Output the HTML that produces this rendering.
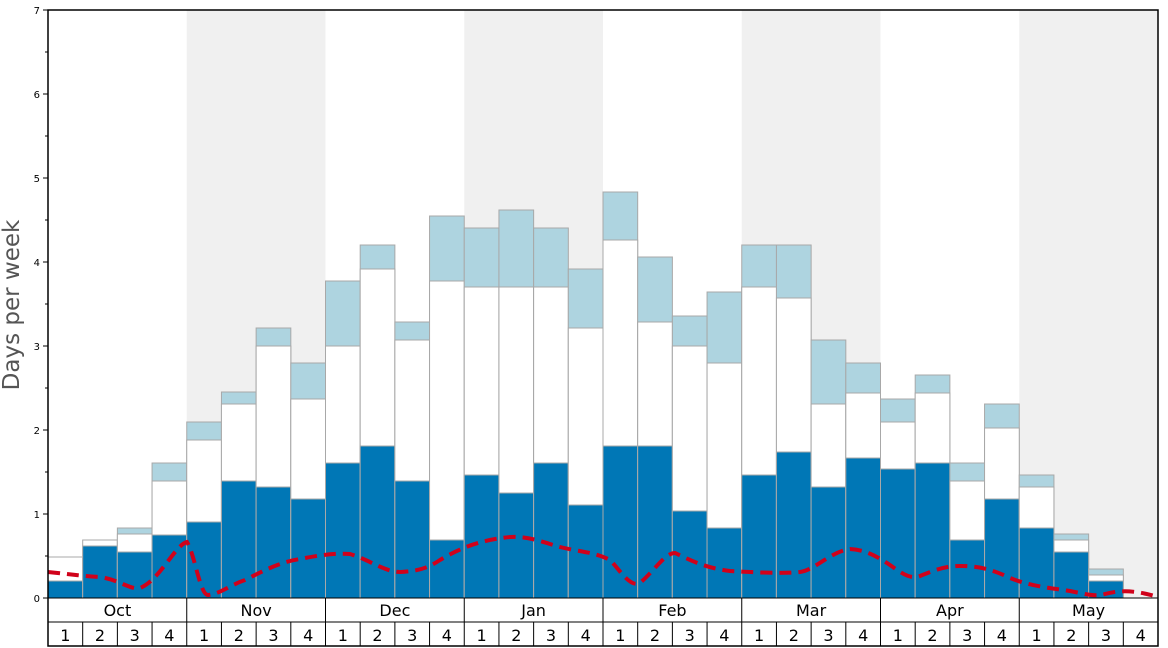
<!DOCTYPE html>
<html><head><meta charset="utf-8"><style>
html,body{margin:0;padding:0;background:#fff;width:1168px;height:648px;overflow:hidden}
svg{display:block}
text{font-family:"DejaVu Sans","Liberation Sans",sans-serif}
</style></head><body>
<svg width="1168" height="648" viewBox="0 0 1168 648" xmlns="http://www.w3.org/2000/svg">
<rect x="0" y="0" width="1168" height="648" fill="#fff"/>
<g fill="#f0f0f0">
<rect x="186.75" y="10" width="138.75" height="588"/>
<rect x="464.25" y="10" width="138.75" height="588"/>
<rect x="741.75" y="10" width="138.75" height="588"/>
<rect x="1019.25" y="10" width="138.75" height="588"/>
</g>
<g stroke="#a8a8a8" stroke-width="1">
<rect x="48" y="557" width="34.69" height="41" fill="#fff"/><rect x="48" y="581" width="34.69" height="17" fill="#0077b6"/>
<rect x="82.69" y="540" width="34.69" height="58" fill="#fff"/><rect x="82.69" y="546" width="34.69" height="52" fill="#0077b6"/>
<rect x="117.38" y="528" width="34.69" height="70" fill="#aed4e0"/><rect x="117.38" y="534" width="34.69" height="64" fill="#fff"/><rect x="117.38" y="552" width="34.69" height="46" fill="#0077b6"/>
<rect x="152.06" y="463" width="34.69" height="135" fill="#aed4e0"/><rect x="152.06" y="481" width="34.69" height="117" fill="#fff"/><rect x="152.06" y="535" width="34.69" height="63" fill="#0077b6"/>
<rect x="186.75" y="422" width="34.69" height="176" fill="#aed4e0"/><rect x="186.75" y="440" width="34.69" height="158" fill="#fff"/><rect x="186.75" y="522" width="34.69" height="76" fill="#0077b6"/>
<rect x="221.44" y="392" width="34.69" height="206" fill="#aed4e0"/><rect x="221.44" y="404" width="34.69" height="194" fill="#fff"/><rect x="221.44" y="481" width="34.69" height="117" fill="#0077b6"/>
<rect x="256.13" y="328" width="34.69" height="270" fill="#aed4e0"/><rect x="256.13" y="346" width="34.69" height="252" fill="#fff"/><rect x="256.13" y="487" width="34.69" height="111" fill="#0077b6"/>
<rect x="290.81" y="363" width="34.69" height="235" fill="#aed4e0"/><rect x="290.81" y="399" width="34.69" height="199" fill="#fff"/><rect x="290.81" y="499" width="34.69" height="99" fill="#0077b6"/>
<rect x="325.5" y="281" width="34.69" height="317" fill="#aed4e0"/><rect x="325.5" y="346" width="34.69" height="252" fill="#fff"/><rect x="325.5" y="463" width="34.69" height="135" fill="#0077b6"/>
<rect x="360.19" y="245" width="34.69" height="353" fill="#aed4e0"/><rect x="360.19" y="269" width="34.69" height="329" fill="#fff"/><rect x="360.19" y="446" width="34.69" height="152" fill="#0077b6"/>
<rect x="394.88" y="322" width="34.69" height="276" fill="#aed4e0"/><rect x="394.88" y="340" width="34.69" height="258" fill="#fff"/><rect x="394.88" y="481" width="34.69" height="117" fill="#0077b6"/>
<rect x="429.56" y="216" width="34.69" height="382" fill="#aed4e0"/><rect x="429.56" y="281" width="34.69" height="317" fill="#fff"/><rect x="429.56" y="540" width="34.69" height="58" fill="#0077b6"/>
<rect x="464.25" y="228" width="34.69" height="370" fill="#aed4e0"/><rect x="464.25" y="287" width="34.69" height="311" fill="#fff"/><rect x="464.25" y="475" width="34.69" height="123" fill="#0077b6"/>
<rect x="498.94" y="210" width="34.69" height="388" fill="#aed4e0"/><rect x="498.94" y="287" width="34.69" height="311" fill="#fff"/><rect x="498.94" y="493" width="34.69" height="105" fill="#0077b6"/>
<rect x="533.63" y="228" width="34.69" height="370" fill="#aed4e0"/><rect x="533.63" y="287" width="34.69" height="311" fill="#fff"/><rect x="533.63" y="463" width="34.69" height="135" fill="#0077b6"/>
<rect x="568.31" y="269" width="34.69" height="329" fill="#aed4e0"/><rect x="568.31" y="328" width="34.69" height="270" fill="#fff"/><rect x="568.31" y="505" width="34.69" height="93" fill="#0077b6"/>
<rect x="603" y="192" width="34.69" height="406" fill="#aed4e0"/><rect x="603" y="240" width="34.69" height="358" fill="#fff"/><rect x="603" y="446" width="34.69" height="152" fill="#0077b6"/>
<rect x="637.69" y="257" width="34.69" height="341" fill="#aed4e0"/><rect x="637.69" y="322" width="34.69" height="276" fill="#fff"/><rect x="637.69" y="446" width="34.69" height="152" fill="#0077b6"/>
<rect x="672.38" y="316" width="34.69" height="282" fill="#aed4e0"/><rect x="672.38" y="346" width="34.69" height="252" fill="#fff"/><rect x="672.38" y="511" width="34.69" height="87" fill="#0077b6"/>
<rect x="707.06" y="292" width="34.69" height="306" fill="#aed4e0"/><rect x="707.06" y="363" width="34.69" height="235" fill="#fff"/><rect x="707.06" y="528" width="34.69" height="70" fill="#0077b6"/>
<rect x="741.75" y="245" width="34.69" height="353" fill="#aed4e0"/><rect x="741.75" y="287" width="34.69" height="311" fill="#fff"/><rect x="741.75" y="475" width="34.69" height="123" fill="#0077b6"/>
<rect x="776.44" y="245" width="34.69" height="353" fill="#aed4e0"/><rect x="776.44" y="298" width="34.69" height="300" fill="#fff"/><rect x="776.44" y="452" width="34.69" height="146" fill="#0077b6"/>
<rect x="811.13" y="340" width="34.69" height="258" fill="#aed4e0"/><rect x="811.13" y="404" width="34.69" height="194" fill="#fff"/><rect x="811.13" y="487" width="34.69" height="111" fill="#0077b6"/>
<rect x="845.81" y="363" width="34.69" height="235" fill="#aed4e0"/><rect x="845.81" y="393" width="34.69" height="205" fill="#fff"/><rect x="845.81" y="458" width="34.69" height="140" fill="#0077b6"/>
<rect x="880.5" y="399" width="34.69" height="199" fill="#aed4e0"/><rect x="880.5" y="422" width="34.69" height="176" fill="#fff"/><rect x="880.5" y="469" width="34.69" height="129" fill="#0077b6"/>
<rect x="915.19" y="375" width="34.69" height="223" fill="#aed4e0"/><rect x="915.19" y="393" width="34.69" height="205" fill="#fff"/><rect x="915.19" y="463" width="34.69" height="135" fill="#0077b6"/>
<rect x="949.88" y="463" width="34.69" height="135" fill="#aed4e0"/><rect x="949.88" y="481" width="34.69" height="117" fill="#fff"/><rect x="949.88" y="540" width="34.69" height="58" fill="#0077b6"/>
<rect x="984.56" y="404" width="34.69" height="194" fill="#aed4e0"/><rect x="984.56" y="428" width="34.69" height="170" fill="#fff"/><rect x="984.56" y="499" width="34.69" height="99" fill="#0077b6"/>
<rect x="1019.25" y="475" width="34.69" height="123" fill="#aed4e0"/><rect x="1019.25" y="487" width="34.69" height="111" fill="#fff"/><rect x="1019.25" y="528" width="34.69" height="70" fill="#0077b6"/>
<rect x="1053.94" y="534" width="34.69" height="64" fill="#aed4e0"/><rect x="1053.94" y="540" width="34.69" height="58" fill="#fff"/><rect x="1053.94" y="552" width="34.69" height="46" fill="#0077b6"/>
<rect x="1088.63" y="569" width="34.69" height="29" fill="#aed4e0"/><rect x="1088.63" y="575" width="34.69" height="23" fill="#fff"/><rect x="1088.63" y="581" width="34.69" height="17" fill="#0077b6"/>
</g>
<path d="M48,572 C70,574 80,576 100,577 C120,580 130,590 140,588 C160,580 175,545 187,542 C195,555 200,595 208,595 C220,594 230,585 245,580 C265,570 280,562 300,559 C320,555 335,553 350,554 C370,560 385,572 400,572 C415,571 425,570 440,560 C460,548 480,540 510,537 C530,536 545,543 560,547 C580,552 595,552 610,560 C620,570 630,588 640,583 C655,570 665,553 675,553 C690,560 705,568 730,571 C750,572 780,574 800,572 C815,570 830,552 850,549 C865,550 875,555 890,565 C900,572 910,580 920,576 C935,570 945,566 960,566 C975,566 990,568 1010,578 C1030,586 1050,588 1070,591 C1085,594 1095,597 1105,594 C1120,590 1135,590 1158,597" fill="none" stroke="#d0021b" stroke-width="4" stroke-dasharray="12,7"/>
<rect x="0" y="599" width="1168" height="49" fill="#fff"/>
<rect x="48" y="10" width="1110" height="636" fill="none" stroke="#000" stroke-width="1.5"/>
<line x1="48" y1="598" x2="1158" y2="598" stroke="#000" stroke-width="1"/>
<line x1="48" y1="622" x2="1158" y2="622" stroke="#000" stroke-width="1"/>
<g stroke="#000" stroke-width="1">
<line x1="186.75" y1="598" x2="186.75" y2="646"/><line x1="325.5" y1="598" x2="325.5" y2="646"/>
<line x1="464.25" y1="598" x2="464.25" y2="646"/><line x1="603" y1="598" x2="603" y2="646"/>
<line x1="741.75" y1="598" x2="741.75" y2="646"/><line x1="880.5" y1="598" x2="880.5" y2="646"/>
<line x1="1019.25" y1="598" x2="1019.25" y2="646"/>
<line x1="82.69" y1="622" x2="82.69" y2="646"/><line x1="117.38" y1="622" x2="117.38" y2="646"/><line x1="152.06" y1="622" x2="152.06" y2="646"/>
<line x1="221.44" y1="622" x2="221.44" y2="646"/><line x1="256.13" y1="622" x2="256.13" y2="646"/><line x1="290.81" y1="622" x2="290.81" y2="646"/>
<line x1="360.19" y1="622" x2="360.19" y2="646"/><line x1="394.88" y1="622" x2="394.88" y2="646"/><line x1="429.56" y1="622" x2="429.56" y2="646"/>
<line x1="498.94" y1="622" x2="498.94" y2="646"/><line x1="533.63" y1="622" x2="533.63" y2="646"/><line x1="568.31" y1="622" x2="568.31" y2="646"/>
<line x1="637.69" y1="622" x2="637.69" y2="646"/><line x1="672.38" y1="622" x2="672.38" y2="646"/><line x1="707.06" y1="622" x2="707.06" y2="646"/>
<line x1="776.44" y1="622" x2="776.44" y2="646"/><line x1="811.13" y1="622" x2="811.13" y2="646"/><line x1="845.81" y1="622" x2="845.81" y2="646"/>
<line x1="915.19" y1="622" x2="915.19" y2="646"/><line x1="949.88" y1="622" x2="949.88" y2="646"/><line x1="984.56" y1="622" x2="984.56" y2="646"/>
<line x1="1053.94" y1="622" x2="1053.94" y2="646"/><line x1="1088.63" y1="622" x2="1088.63" y2="646"/><line x1="1123.31" y1="622" x2="1123.31" y2="646"/>
</g>
<g font-size="16" text-anchor="middle" fill="#000">
<text x="117.4" y="616">Oct</text><text x="256.1" y="616">Nov</text><text x="394.9" y="616">Dec</text>
<text x="533.6" y="616">Jan</text><text x="672.4" y="616">Feb</text><text x="811.1" y="616">Mar</text>
<text x="949.9" y="616">Apr</text><text x="1088.6" y="616">May</text>
</g>
<g font-size="16" text-anchor="middle" fill="#000">
<text x="65.3" y="641">1</text><text x="100.0" y="641">2</text><text x="134.7" y="641">3</text><text x="169.4" y="641">4</text>
<text x="204.1" y="641">1</text><text x="238.8" y="641">2</text><text x="273.5" y="641">3</text><text x="308.2" y="641">4</text>
<text x="342.8" y="641">1</text><text x="377.5" y="641">2</text><text x="412.2" y="641">3</text><text x="446.9" y="641">4</text>
<text x="481.6" y="641">1</text><text x="516.3" y="641">2</text><text x="551.0" y="641">3</text><text x="585.7" y="641">4</text>
<text x="620.3" y="641">1</text><text x="655.0" y="641">2</text><text x="689.7" y="641">3</text><text x="724.4" y="641">4</text>
<text x="759.1" y="641">1</text><text x="793.8" y="641">2</text><text x="828.5" y="641">3</text><text x="863.2" y="641">4</text>
<text x="897.8" y="641">1</text><text x="932.5" y="641">2</text><text x="967.2" y="641">3</text><text x="1001.9" y="641">4</text>
<text x="1036.6" y="641">1</text><text x="1071.3" y="641">2</text><text x="1106.0" y="641">3</text><text x="1140.7" y="641">4</text>
</g>
<g stroke="#000" stroke-width="1">
<line x1="43" y1="598" x2="48" y2="598"/><line x1="43" y1="514" x2="48" y2="514"/>
<line x1="43" y1="430" x2="48" y2="430"/><line x1="43" y1="346" x2="48" y2="346"/>
<line x1="43" y1="262" x2="48" y2="262"/><line x1="43" y1="178" x2="48" y2="178"/>
<line x1="43" y1="94" x2="48" y2="94"/><line x1="43" y1="10" x2="48" y2="10"/>
<line x1="45" y1="556" x2="48" y2="556"/><line x1="45" y1="472" x2="48" y2="472"/>
<line x1="45" y1="388" x2="48" y2="388"/><line x1="45" y1="304" x2="48" y2="304"/>
<line x1="45" y1="220" x2="48" y2="220"/><line x1="45" y1="136" x2="48" y2="136"/>
<line x1="45" y1="52" x2="48" y2="52"/>
</g>
<g font-size="10" text-anchor="end" fill="#000">
<text x="40" y="602">0</text><text x="40" y="518">1</text><text x="40" y="434">2</text>
<text x="40" y="350">3</text><text x="40" y="266">4</text><text x="40" y="182">5</text>
<text x="40" y="98">6</text><text x="40" y="14">7</text>
</g>
<text x="0" y="0" font-size="23" fill="#555" text-anchor="middle" transform="translate(19,305) rotate(-90)">Days per week</text>
</svg>
</body></html>
